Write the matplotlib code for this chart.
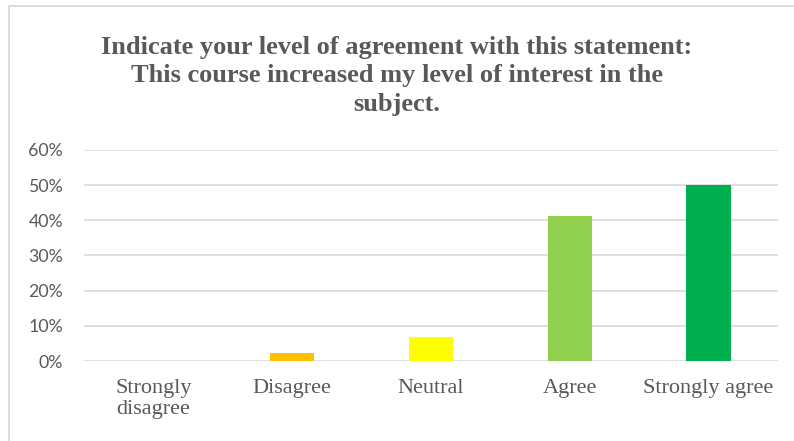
import matplotlib
matplotlib.use("Agg")
import matplotlib.pyplot as plt
from matplotlib.patches import Rectangle
from matplotlib.ticker import FuncFormatter

categories = ["Strongly\ndisagree", "Disagree", "Neutral", "Agree", "Strongly agree"]
shares = [0.0, 0.022, 0.067, 0.411, 0.50]
bar_colors = ["#4472C4", "#FFC000", "#FFFF00", "#92D050", "#00B050"]
y_ticks = [0.0, 0.1, 0.2, 0.3, 0.4, 0.5, 0.6]
title = ("Indicate your level of agreement with this statement:\n"
         "This course increased my level of interest in the\n"
         "subject.")

text_gray = "#595959"
grid_gray = "#D9D9D9"

W, H = 794, 441
fig = plt.figure(figsize=(W / 100, H / 100), dpi=100)
fig.patch.set_facecolor("white")

# chart area border (only top and left edges fall inside the canvas)
fig.patches.append(Rectangle((9 / W, -0.1), 1.2, (H - 6) / H + 0.1,
                             transform=fig.transFigure, fill=False,
                             edgecolor=grid_gray, linewidth=1.3))

ax = fig.add_axes([84 / W, 80 / H, (778 - 84) / W, (361 - 150) / H])
x = range(len(categories))
ax.bar(x, shares, width=0.32, color=bar_colors, zorder=3)

ax.set_ylim(0, 0.6)
ax.set_xlim(-0.5, len(categories) - 0.5)
ax.set_yticks(y_ticks)
ax.yaxis.set_major_formatter(FuncFormatter(lambda v, _: "%d%%" % round(v * 100)))
ax.grid(axis="y", color=grid_gray, linewidth=1.2, zorder=0)
for s in ax.spines.values():
    s.set_visible(False)
ax.tick_params(length=0)
ax.tick_params(axis="y", pad=15, labelsize=12.8, labelcolor=text_gray)
ax.tick_params(axis="x", pad=13, labelcolor=text_gray)

ax.set_xticks(list(x))
ax.set_xticklabels(categories, family="Liberation Serif", fontsize=16,
                   linespacing=1.15, va="top")
for lbl in ax.get_yticklabels():
    lbl.set_family("Lato")

fig.text(0.5, (H - 36) / H, title, ha="center", va="top",
         family="Liberation Serif", fontweight="bold", fontsize=19,
         color=text_gray, linespacing=1.3)

fig.savefig("out.png", dpi=100, facecolor="white")
